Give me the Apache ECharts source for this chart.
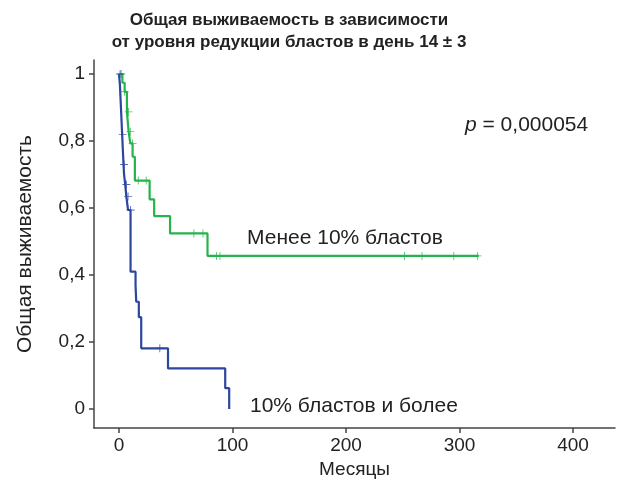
<!DOCTYPE html>
<html>
<head>
<meta charset="utf-8">
<script src="https://cdn.jsdelivr.net/npm/echarts@6/dist/echarts.min.js"></script>
<style>
  html, body { margin: 0; padding: 0; background: #fff; }
  #chart { width: 625px; height: 484px; }
</style>
</head>
<body>
<div id="chart"></div>
<script>
// Kaplan–Meier steps: [month, survival after event]
const greenSteps = [
  [0, 1], [3, 0.974], [5, 0.947], [7, 0.887], [8.5, 0.828], [10, 0.793],
  [12, 0.753], [14, 0.682], [27, 0.626], [31, 0.576], [45, 0.524],
  [78, 0.457], [317, 0.457]
];
const greenCensored = [
  [2, 1], [5, 0.947], [8.5, 0.887], [10, 0.828], [12, 0.793], [17, 0.682], [24, 0.682],
  [66, 0.524], [74, 0.524], [86, 0.457], [89, 0.457],
  [251.5, 0.457], [267, 0.457], [295, 0.457], [316, 0.457]
];
const blueSteps = [
  [0, 1], [0.8, 0.97], [1.2, 0.94], [1.6, 0.91], [2, 0.88], [2.4, 0.85],
  [2.8, 0.82], [3.2, 0.79], [3.6, 0.76], [4, 0.73], [4.5, 0.70],
  [5.5, 0.67], [6.5, 0.634], [8, 0.594], [10.2, 0.41], [14.6, 0.37],
  [15.2, 0.32], [17.5, 0.274], [19.6, 0.181], [43.2, 0.121],
  [93.6, 0.062], [97.1, 0]
];
const blueCensored = [
  [1, 1], [3.2, 0.82], [4.5, 0.73], [6.5, 0.67], [8, 0.634], [10.2, 0.594], [36, 0.181]
];
const xTicks = [0, 100, 200, 300, 400];
const yTicks = [0, 0.2, 0.4, 0.6, 0.8, 1];

const GREEN = '#25b34b';
const BLUE = '#2c46a0';
const FONT = 'Liberation Sans, Arial, sans-serif';
const PLUS = 'path://M4,0L5,0L5,4L9,4L9,5L5,5L5,9L4,9L4,5L0,5L0,4L4,4Z';

const chart = echarts.init(document.getElementById('chart'));

const option = {
  animation: false,
  textStyle: { fontFamily: FONT },
  title: {
    text: 'Общая выживаемость в зависимости\nот уровня редукции бластов в день 14 ± 3',
    left: 284,
    top: 4,
    textAlign: 'center',
    textStyle: {
      fontFamily: FONT,
      fontSize: 17,
      fontWeight: 'bold',
      color: '#222',
      lineHeight: 22
    }
  },
  grid: { left: 94, right: 10, top: 60, bottom: 56 },
  xAxis: {
    type: 'value',
    min: -22,
    max: 437,
    name: 'Месяцы',
    nameLocation: 'middle',
    nameGap: 30,
    nameTextStyle: { fontSize: 19, color: '#222', fontFamily: FONT },
    splitLine: { show: false },
    axisLine: { onZero: false, lineStyle: { color: '#444', width: 1.5 } },
    axisTick: { customValues: xTicks, length: 5, lineStyle: { color: '#444', width: 1.5 } },
    axisLabel: {
      customValues: xTicks,
      fontSize: 19,
      color: '#222',
      margin: 8
    }
  },
  yAxis: {
    type: 'value',
    min: -0.057,
    max: 1.042,
    name: 'Общая выживаемость',
    nameLocation: 'middle',
    nameGap: 58,
    nameTextStyle: { fontSize: 21, color: '#222', fontFamily: FONT },
    splitLine: { show: false },
    axisLine: { show: true, onZero: false, lineStyle: { color: '#444', width: 1.5 } },
    axisTick: { show: true, customValues: yTicks, length: 5, lineStyle: { color: '#444', width: 1.5 } },
    axisLabel: {
      customValues: yTicks,
      fontSize: 19,
      color: '#222',
      margin: 9,
      formatter: v => String(Math.round(v * 10) / 10).replace('.', ',')
    }
  },
  series: [
    {
      type: 'line',
      step: 'end',
      data: greenSteps,
      symbol: 'none',
      lineStyle: { color: GREEN, width: 2.2 },
      z: 3
    },
    {
      type: 'scatter',
      data: greenCensored,
      symbol: PLUS,
      symbolSize: 8,
      itemStyle: { color: GREEN },
      z: 4
    },
    {
      type: 'line',
      step: 'end',
      data: blueSteps,
      symbol: 'none',
      lineStyle: { color: BLUE, width: 2.2 },
      z: 3
    },
    {
      type: 'scatter',
      data: blueCensored,
      symbol: PLUS,
      symbolSize: 8,
      itemStyle: { color: BLUE },
      z: 4
    }
  ],
  graphic: [
    {
      type: 'text',
      left: 465,
      top: 115,
      style: {
        text: '{i|p} = 0,000054',
        fontSize: 21,
        fontFamily: FONT,
        fill: '#222',
        rich: { i: { fontStyle: 'italic', fontSize: 21, fontFamily: FONT, fill: '#222' } }
      }
    },
    {
      type: 'text',
      left: 247,
      top: 228,
      style: { text: 'Менее 10% бластов', fontSize: 21, fontFamily: FONT, fill: '#222' }
    },
    {
      type: 'text',
      left: 250,
      top: 396,
      style: { text: '10% бластов и более', fontSize: 21, fontFamily: FONT, fill: '#222' }
    }
  ]
};

chart.setOption(option);
</script>
</body>
</html>
